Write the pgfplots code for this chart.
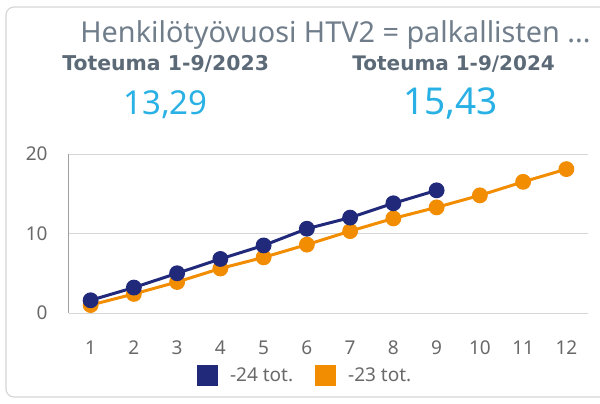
\documentclass[border=0pt]{standalone}
\usepackage{fontspec}
\setmainfont{Noto Sans}
\newfontfamily\lblfont{DejaVu Sans}
\usepackage{pgfplots}
\pgfplotsset{compat=1.18}
\definecolor{navy}{RGB}{33,41,122}
\definecolor{orng}{RGB}{242,140,0}
\definecolor{kpi}{RGB}{41,176,228}
\definecolor{ttl}{RGB}{112,125,138}
\definecolor{lbl}{RGB}{92,106,120}
\definecolor{tickc}{RGB}{105,105,105}
\definecolor{gridc}{RGB}{214,214,214}
\begin{document}
\begin{tikzpicture}
\useasboundingbox (0,0) rectangle (300pt,-201.5pt);
% card frame
\draw[gridc, line width=0.6pt, rounded corners=4pt] (3pt,-3.5pt) rectangle (312pt,-198.5pt);
% heading and key figures
\node[anchor=base west, inner sep=0pt, text=ttl, font=\fontsize{14.4}{16}\selectfont] at (40pt,-21pt)
  {Henkilötyövuosi HTV2 = palkallisten ...};
\node[anchor=base west, inner sep=0pt, text=lbl, font=\lblfont\bfseries\fontsize{10.2}{12}\selectfont] at (31pt,-35pt)
  {Toteuma 1-9/2023};
\node[anchor=base west, inner sep=0pt, text=lbl, font=\lblfont\bfseries\fontsize{10}{12}\selectfont] at (176pt,-35pt)
  {Toteuma 1-9/2024};
\node[anchor=base west, inner sep=0pt, text=kpi, font=\fontsize{16.5}{18}\selectfont] at (61.5pt,-57pt) {13,29};
\node[anchor=base west, inner sep=0pt, text=kpi, font=\fontsize{18.5}{20}\selectfont] at (201.5pt,-57pt) {15,43};

\begin{axis}[
  at={(34.5pt,-156.5pt)}, anchor=south west,
  scale only axis, width=259.5pt, height=79.5pt,
  xmin=0.5, xmax=12.5, ymin=0, ymax=20,
  xtick={1,...,12}, ytick={0,10,20},
  axis x line*=bottom, axis y line*=left,
  x axis line style={draw=none},
  y axis line style={-, draw=gray!75, line width=0.5pt},
  major tick length=0pt,
  ymajorgrids, grid style={gridc, line width=0.5pt},
  tick label style={font=\fontsize{9.5}{11}\selectfont, text=tickc},
  /pgf/number format/assume math mode=true,
  xticklabel style={anchor=center, inner sep=0pt, yshift=-17.5pt},
  yticklabel style={anchor=east, inner sep=0pt, xshift=-10.5pt},
  legend columns=2, reverse legend,
  legend style={at={(0.457,-0.396)}, anchor=center, draw=none, fill=none,
    font=\fontsize{9.5}{11}\selectfont, text=tickc,
    /tikz/every even column/.append style={column sep=9pt}},
  legend image code/.code={\fill[#1] (0pt,-4.5pt) rectangle (9pt,4.5pt); \path (0pt,0pt) (13pt,0pt);},
  every axis plot/.append style={line width=1.5pt, mark=*, mark size=3.2pt, mark options={solid}},
]
\addplot[color=orng] coordinates {
  (1,1.0) (2,2.4) (3,3.9) (4,5.6) (5,7.0) (6,8.6) (7,10.3) (8,11.9) (9,13.29) (10,14.8) (11,16.5) (12,18.1)
};
\addlegendentry{-23 tot.}
\addplot[color=navy] coordinates {
  (1,1.6) (2,3.2) (3,5.0) (4,6.8) (5,8.5) (6,10.6) (7,12.0) (8,13.8) (9,15.43)
};
\addlegendentry{-24 tot.}
\end{axis}
\end{tikzpicture}
\end{document}
